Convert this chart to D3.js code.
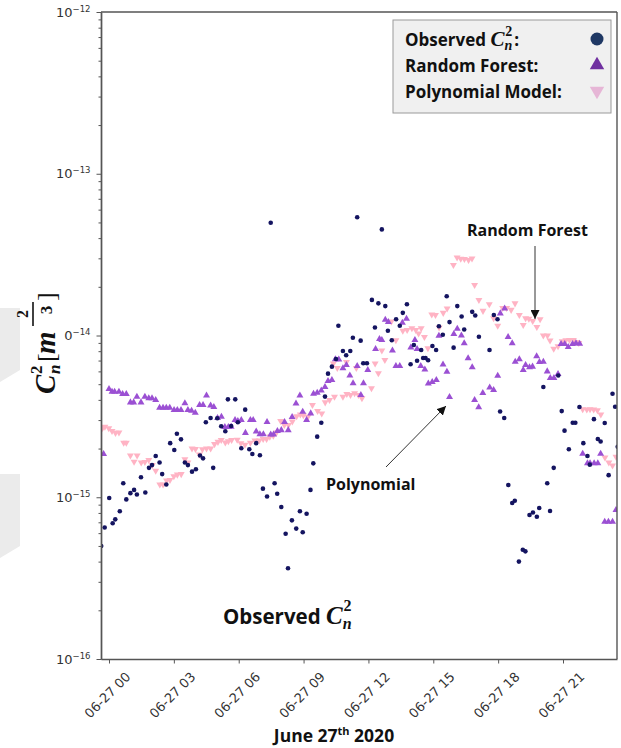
<!DOCTYPE html>
<html><head><meta charset="utf-8">
<script src="https://cdn.jsdelivr.net/npm/d3@7"></script>
<style>body{margin:0;background:#fff}svg{display:block}</style>
</head><body>
<svg id="c" width="621" height="748"></svg>
<script>
// ---- data (hours relative to 2020-06-27 00:00, C_n^2 values) ----
const xTickHours = [0,3,6,9,12,15,18,21];
const yTickExponents = [-16,-15,-14,-13,-12];
const legendLabels = ["Observed", "Random Forest:", "Polynomial Model:"];

const observed = [[-0.36,5.0e-16],[-0.20,6.5e-16],[0.01,9.9e-16],[0.17,6.9e-16],[0.29,7.3e-16],[0.50,8.2e-16],[0.66,1.22e-15],[0.80,9.7e-16],[0.99,1.06e-15],[1.16,1.11e-15],[1.29,1.04e-15],[1.48,1.33e-15],[1.68,1.07e-15],[1.85,1.52e-15],[1.99,1.58e-15],[2.16,1.80e-15],[2.34,1.64e-15],[2.46,1.39e-15],[2.65,1.20e-15],[2.83,2.16e-15],[3.02,1.96e-15],[3.14,2.47e-15],[3.33,2.28e-15],[3.51,1.64e-15],[3.65,1.58e-15],[3.84,1.44e-15],[4.02,1.49e-15],[4.21,1.81e-15],[4.35,1.74e-15],[4.48,2.91e-15],[4.70,3.09e-15],[4.82,1.52e-15],[5.01,3.08e-15],[5.19,2.75e-15],[5.38,2.56e-15],[5.50,4.03e-15],[5.65,2.76e-15],[5.84,4.03e-15],[5.96,2.91e-15],[6.12,2.01e-15],[6.30,3.48e-15],[6.49,1.98e-15],[6.63,1.85e-15],[6.81,2.16e-15],[6.98,1.82e-15],[7.12,1.13e-15],[7.31,1.01e-15],[7.48,4.98e-14],[7.66,1.22e-15],[7.78,1.05e-15],[7.97,8.7e-16],[8.17,5.95e-16],[8.28,3.64e-16],[8.46,7.2e-16],[8.66,6.4e-16],[8.83,8.2e-16],[8.96,6.07e-16],[9.14,7.9e-16],[9.32,1.11e-15],[9.45,1.62e-15],[9.63,2.37e-15],[9.82,2.89e-15],[9.99,4.19e-15],[10.13,5.81e-15],[10.31,6.42e-15],[10.50,7.16e-15],[10.61,1.15e-14],[10.82,8.02e-15],[10.97,7.55e-15],[11.16,8.02e-15],[11.28,9.69e-15],[11.48,5.38e-14],[11.64,9.29e-15],[11.76,6.74e-15],[11.93,6.74e-15],[12.16,1.66e-14],[12.30,1.12e-14],[12.46,1.58e-14],[12.62,4.53e-14],[12.78,1.52e-14],[12.90,1.07e-14],[13.08,9.34e-15],[13.28,1.26e-14],[13.45,1.15e-14],[13.59,1.38e-14],[13.78,1.56e-14],[13.95,6.64e-15],[14.10,8.73e-15],[14.25,6.98e-15],[14.44,8.13e-15],[14.53,7.26e-15],[14.64,7.26e-15],[14.76,7.03e-15],[14.96,8.61e-15],[15.13,8.13e-15],[15.26,1.14e-14],[15.44,1.01e-14],[15.62,1.75e-14],[15.75,1.21e-14],[15.94,8.41e-15],[16.11,1.52e-14],[16.31,1.31e-14],[16.43,1.09e-14],[16.80,1.40e-14],[16.94,1.33e-14],[17.11,9.83e-15],[17.60,8.13e-15],[17.80,1.34e-14],[17.97,1.26e-14],[18.09,3.39e-15],[18.28,3.09e-15],[18.47,1.19e-15],[18.65,9.21e-16],[18.77,9.52e-16],[18.96,4.0e-16],[19.14,4.74e-16],[19.26,4.63e-16],[19.45,7.77e-16],[19.61,8.05e-16],[19.79,7.58e-16],[19.90,8.58e-16],[20.09,4.8e-15],[20.27,1.22e-15],[20.40,8.22e-16],[20.57,1.52e-15],[20.78,5.66e-15],[20.94,3.41e-15],[21.07,2.58e-15],[21.27,1.98e-15],[21.45,2.89e-15],[21.57,2.89e-15],[21.76,3.61e-15],[21.94,2.16e-15],[22.13,1.80e-15],[22.24,1.59e-15],[22.43,3.04e-15],[22.61,2.29e-15],[22.74,2.21e-15],[22.93,2.88e-15],[23.11,1.37e-15],[23.29,4.36e-15],[23.41,3.63e-15],[23.53,2.05e-15]];

const randomForest = [[-0.25,1.85e-15],[0.00,4.67e-15],[0.14,4.49e-15],[0.26,4.49e-15],[0.46,4.49e-15],[0.63,4.35e-15],[0.80,4.35e-15],[0.99,3.86e-15],[1.14,3.86e-15],[1.29,4.18e-15],[1.48,3.86e-15],[1.66,4.18e-15],[1.84,4.09e-15],[1.99,4.09e-15],[2.16,3.99e-15],[2.34,3.58e-15],[2.50,3.58e-15],[2.65,3.58e-15],[2.81,3.58e-15],[3.01,3.46e-15],[3.16,3.46e-15],[3.33,3.46e-15],[3.51,3.81e-15],[3.65,3.46e-15],[3.82,3.43e-15],[3.99,3.33e-15],[4.19,3.72e-15],[4.35,3.72e-15],[4.51,4.26e-15],[4.70,3.69e-15],[4.85,3.61e-15],[5.02,3.09e-15],[5.20,3.15e-15],[5.36,2.72e-15],[5.52,2.72e-15],[5.65,2.73e-15],[5.83,3.0e-15],[5.96,2.96e-15],[6.12,3.0e-15],[6.31,2.50e-15],[6.54,3.0e-15],[6.67,3.0e-15],[6.81,2.55e-15],[6.98,2.45e-15],[7.14,2.45e-15],[7.31,2.92e-15],[7.48,2.44e-15],[7.61,2.44e-15],[7.79,2.57e-15],[7.97,2.60e-15],[8.12,2.92e-15],[8.29,2.60e-15],[8.47,3.13e-15],[8.65,3.80e-15],[8.83,4.26e-15],[8.96,3.38e-15],[9.14,3.0e-15],[9.33,3.30e-15],[9.46,4.37e-15],[9.63,4.43e-15],[9.82,4.57e-15],[9.99,4.80e-15],[10.13,5.23e-15],[10.31,5.31e-15],[10.47,7.13e-15],[10.63,7.1e-15],[10.82,6.27e-15],[10.98,6.57e-15],[11.14,5.66e-15],[11.29,5.06e-15],[11.48,6.48e-15],[11.65,4.29e-15],[11.77,5.06e-15],[11.97,6.12e-15],[12.33,8.25e-15],[12.51,9.51e-15],[12.62,9.38e-15],[12.78,1.25e-14],[12.92,1.21e-14],[13.11,8.08e-15],[13.27,6.48e-15],[13.45,6.48e-15],[13.57,1.20e-14],[13.76,1.27e-14],[13.96,8.43e-15],[14.15,9.38e-15],[14.25,8.25e-15],[14.42,6.48e-15],[14.61,6.17e-15],[14.77,5.05e-15],[14.95,5.16e-15],[15.14,5.31e-15],[15.26,9.97e-15],[15.45,6.62e-15],[15.63,5.97e-15],[15.75,4.17e-15],[15.95,1.02e-14],[16.11,1.10e-14],[16.30,1.0e-14],[16.43,8.95e-15],[16.61,7.24e-15],[16.80,6.36e-15],[16.91,3.99e-15],[17.10,3.60e-15],[17.29,4.41e-15],[17.61,4.77e-15],[17.79,4.60e-15],[17.98,5.64e-15],[18.10,1.37e-14],[18.30,1.47e-14],[18.46,9.79e-15],[18.65,8.95e-15],[18.79,6.89e-15],[18.98,7.13e-15],[19.16,6.12e-15],[19.27,6.57e-15],[19.45,6.37e-15],[19.59,6.42e-15],[19.78,7.44e-15],[19.91,6.86e-15],[20.09,6.89e-15],[20.27,6.0e-15],[20.41,5.46e-15],[20.58,5.46e-15],[20.77,5.78e-15],[20.91,8.86e-15],[21.08,8.86e-15],[21.24,8.49e-15],[21.44,8.86e-15],[21.60,8.95e-15],[21.77,8.9e-15],[21.91,1.86e-15],[22.13,1.62e-15],[22.25,1.62e-15],[22.44,1.62e-15],[22.61,1.62e-15],[22.74,1.86e-15],[22.93,7.06e-16],[23.10,7.06e-16],[23.29,7.06e-16],[23.45,8.34e-16]];

const polynomial = [[-0.30,2.68e-15],[-0.19,2.73e-15],[-0.01,2.67e-15],[0.14,2.57e-15],[0.30,2.50e-15],[0.46,2.51e-15],[0.68,2.17e-15],[0.80,2.17e-15],[0.99,1.81e-15],[1.16,1.66e-15],[1.30,1.81e-15],[1.49,1.64e-15],[1.66,1.65e-15],[1.84,1.70e-15],[2.00,1.58e-15],[2.16,1.46e-15],[2.35,1.20e-15],[2.50,1.20e-15],[2.66,1.27e-15],[2.82,1.28e-15],[3.00,1.35e-15],[3.16,1.38e-15],[3.34,1.39e-15],[3.51,1.72e-15],[3.65,1.64e-15],[3.84,2.0e-15],[4.00,1.99e-15],[4.18,1.84e-15],[4.32,1.98e-15],[4.51,2.0e-15],[4.70,2.0e-15],[4.88,2.13e-15],[5.04,2.20e-15],[5.19,2.26e-15],[5.38,2.18e-15],[5.52,2.22e-15],[5.67,2.26e-15],[5.93,2.27e-15],[6.10,2.16e-15],[6.29,2.11e-15],[6.54,2.17e-15],[6.75,2.24e-15],[6.95,2.24e-15],[7.13,2.29e-15],[7.29,2.29e-15],[7.44,2.37e-15],[7.60,2.40e-15],[7.75,2.51e-15],[7.94,2.96e-15],[8.11,2.80e-15],[8.30,2.80e-15],[8.48,2.94e-15],[8.68,3.17e-15],[8.85,3.25e-15],[8.99,3.21e-15],[9.20,3.15e-15],[9.41,3.72e-15],[9.65,3.41e-15],[9.84,3.29e-15],[10.00,3.86e-15],[10.20,3.99e-15],[10.38,6.71e-15],[10.43,4.18e-15],[10.56,6.30e-15],[10.82,4.18e-15],[10.98,6.86e-15],[11.00,4.35e-15],[11.17,4.29e-15],[11.36,4.39e-15],[11.44,6.30e-15],[11.54,4.29e-15],[11.70,4.09e-15],[12.14,4.72e-15],[12.31,6.72e-15],[12.46,5.84e-15],[12.62,8.08e-15],[12.76,7.06e-15],[13.06,1.22e-14],[13.27,9.34e-15],[13.59,1.07e-14],[13.79,1.08e-14],[14.01,1.11e-14],[14.19,1.08e-14],[14.32,1.03e-14],[14.44,1.11e-14],[14.59,9.79e-15],[14.75,8.33e-15],[14.93,1.35e-14],[15.10,1.34e-14],[15.27,1.12e-14],[15.46,1.38e-14],[15.64,1.47e-14],[15.93,2.73e-14],[16.10,3.04e-14],[16.27,2.98e-14],[16.44,2.97e-14],[16.63,2.93e-14],[16.79,2.99e-14],[16.91,2.05e-14],[17.11,1.66e-14],[17.30,1.42e-14],[17.59,1.56e-14],[17.79,1.28e-14],[17.98,1.15e-14],[18.21,1.48e-14],[18.39,1.48e-14],[18.60,1.44e-14],[18.78,1.58e-14],[18.98,1.34e-14],[19.16,1.16e-14],[19.27,1.28e-14],[19.42,1.27e-14],[19.60,1.23e-14],[19.79,1.13e-14],[19.94,1.26e-14],[20.09,1.0e-14],[20.28,1.0e-14],[20.40,9.31e-15],[20.57,8.28e-15],[20.77,8.59e-15],[20.96,9.21e-15],[21.13,9.34e-15],[21.30,9.38e-15],[21.48,9.38e-15],[21.60,9.13e-15],[21.73,8.99e-15],[21.91,3.50e-15],[22.10,3.49e-15],[22.25,3.50e-15],[22.42,3.49e-15],[22.59,3.45e-15],[22.75,3.25e-15],[22.94,1.76e-15],[23.12,1.64e-15],[23.29,1.57e-15],[23.45,1.78e-15]];

// ---- layout ----
const svg = d3.select("#c");
const P = {left:101, top:12, right:617, bottom:659};
const t0 = Date.UTC(2020,5,27);
const toDate = h => new Date(t0 + h*3600e3);
const x = d3.scaleUtc().domain([toDate(-0.37), toDate(23.497)]).range([P.left, P.right]);
const y = d3.scaleLog().domain([1e-16, 1e-12]).range([P.bottom, P.top]);

const C_OBS = "#141460", C_RF = "#9b50d3", C_POLY = "#ffb3c4";
const SANS_B = "'Open Sans', Lato, sans-serif";
const MATH = "'Liberation Serif', 'DejaVu Serif', serif";

// background faint shapes at left edge
svg.append("path").attr("d","M0,308 L20,308 L20,370 L0,382 Z").attr("fill","#ebebeb");
svg.append("path").attr("d","M0,474 L20,474 L20,546 L0,558 Z").attr("fill","#ebebeb");

// clip
svg.append("clipPath").attr("id","clip").append("rect")
  .attr("x",P.left).attr("y",P.top).attr("width",P.right-P.left).attr("height",P.bottom-P.top);
const plot = svg.append("g").attr("clip-path","url(#clip)");

// series
plot.append("g").selectAll("path").data(polynomial).join("path")
  .attr("d", d3.symbol(d3.symbolTriangle, 21))
  .attr("transform", d => `translate(${x(toDate(d[0]))},${y(d[1])}) rotate(180)`)
  .attr("fill", C_POLY);
plot.append("g").selectAll("path").data(randomForest).join("path")
  .attr("d", d3.symbol(d3.symbolTriangle, 21))
  .attr("transform", d => `translate(${x(toDate(d[0]))},${y(d[1])})`)
  .attr("fill", C_RF);
plot.append("g").selectAll("circle").data(observed).join("circle")
  .attr("cx", d => x(toDate(d[0]))).attr("cy", d => y(d[1])).attr("r", 2.3)
  .attr("fill", C_OBS);

// axes
const axisColor = "#555";
const majors = yTickExponents.map(e => Math.pow(10, e));
const minors = [];
yTickExponents.slice(0,-1).forEach(e => { for (let k=2;k<=9;k++) minors.push(k*Math.pow(10,e)); });

const gyMinor = svg.append("g").attr("transform",`translate(${P.left},0)`)
  .call(d3.axisLeft(y).tickValues(minors).tickSize(2.5).tickFormat(() => "").tickSizeOuter(0));
const gy = svg.append("g").attr("transform",`translate(${P.left},0)`)
  .call(d3.axisLeft(y).tickValues(majors).tickSize(4.5).tickPadding(6).tickFormat(() => "").tickSizeOuter(0));
gy.selectAll(".tick text").each(function(d) {
  const e = Math.round(Math.log10(d));
  const t = d3.select(this).attr("font-family","'DejaVu Sans', sans-serif").attr("font-size",13)
    .attr("fill","#333").attr("dy","0.32em");
  t.append("tspan").text(e === -14 ? "0" : "10");
  t.append("tspan").attr("font-size",8.5).attr("dy","-0.6em").text("\u2212" + (-e));
});
const gx = svg.append("g").attr("transform",`translate(0,${P.bottom})`)
  .call(d3.axisBottom(x).tickValues(xTickHours.map(toDate)).tickSize(4.5)
    .tickFormat(d3.utcFormat("%m-%d %H")).tickSizeOuter(0));
gx.selectAll(".tick text").attr("font-family","'DejaVu Sans', sans-serif").attr("font-size",13)
  .attr("fill","#333").attr("y",0).attr("dy","0.35em").attr("text-anchor","middle")
  .attr("transform","translate(-2,36) rotate(-45)");
[gyMinor, gy, gx].forEach(g => {
  g.select(".domain").attr("stroke",axisColor).attr("stroke-width",1.4);
  g.selectAll(".tick line").attr("stroke",axisColor).attr("stroke-width",1);
});
svg.append("line").attr("x1",P.left).attr("x2",P.right).attr("y1",P.top).attr("y2",P.top)
  .attr("stroke",axisColor).attr("stroke-width",1.4);
svg.append("line").attr("x1",P.right).attr("x2",P.right).attr("y1",P.top).attr("y2",P.bottom)
  .attr("stroke",axisColor).attr("stroke-width",1.4);

// x axis title
const xt = svg.append("text").attr("x",334).attr("y",742).attr("text-anchor","middle")
  .attr("font-family",SANS_B).attr("font-weight",700).attr("font-size",17.5).attr("fill","#111");
xt.append("tspan").text("June 27");
xt.append("tspan").attr("font-size",11).attr("dy","-0.6em").text("th");
xt.append("tspan").attr("dy","0.38em").text(" 2020");

// y axis title (rotated)
const yt = svg.append("g").attr("transform","translate(55,346) rotate(-90)")
  .attr("font-family",MATH).attr("font-weight",700).attr("fill","#111");
yt.append("text").attr("x",-48).attr("y",0).attr("font-size",29).attr("font-style","italic").text("C");
yt.append("text").attr("x",-28).attr("y",5).attr("font-size",17).attr("font-style","italic").text("n");
yt.append("text").attr("x",-28).attr("y",-13).attr("font-size",17).text("2");
yt.append("text").attr("x",-16).attr("y",0).attr("font-size",26).attr("font-weight",400).text("[");
yt.append("text").attr("x",-8).attr("y",0).attr("font-size",29).attr("font-style","italic").text("m");
yt.append("line").attr("x1",20).attr("x2",44).attr("y1",-22).attr("y2",-22).attr("stroke","#111").attr("stroke-width",1.6);
yt.append("text").attr("x",32).attr("y",-27).attr("text-anchor","middle").attr("font-size",16).text("2");
yt.append("text").attr("x",36).attr("y",-3).attr("text-anchor","middle").attr("font-size",17).text("3");
yt.append("text").attr("x",45).attr("y",0).attr("font-size",26).attr("font-weight",400).text("]");

// annotations
const defs = svg.append("defs");
defs.append("marker").attr("id","arr").attr("viewBox","0 0 10 10").attr("refX",10).attr("refY",5)
  .attr("markerWidth",9).attr("markerHeight",9).attr("markerUnits","userSpaceOnUse").attr("orient","auto")
  .append("path").attr("d","M0,0 L10,5 L0,10 Z").attr("fill","#111");
svg.append("text").attr("x",467).attr("y",236).attr("font-family",SANS_B).attr("font-weight",700)
  .attr("font-size",16).attr("fill","#111").text("Random Forest");
svg.append("line").attr("x1",535).attr("y1",246).attr("x2",535).attr("y2",319)
  .attr("stroke","#333").attr("stroke-width",1).attr("marker-end","url(#arr)");
svg.append("text").attr("x",326).attr("y",490).attr("font-family",SANS_B).attr("font-weight",700)
  .attr("font-size",16).attr("fill","#111").text("Polynomial");
svg.append("line").attr("x1",386).attr("y1",467).attr("x2",446).attr("y2",406)
  .attr("stroke","#333").attr("stroke-width",1).attr("marker-end","url(#arr)");
const ob = svg.append("text").attr("x",223).attr("y",624).attr("font-family",SANS_B).attr("font-weight",700)
  .attr("font-size",20.5).attr("fill","#111");
ob.append("tspan").text("Observed ");
ob.append("tspan").attr("font-family",MATH).attr("font-style","italic").attr("font-size",25).text("C");
ob.append("tspan").attr("font-family",MATH).attr("font-style","italic").attr("font-size",16).attr("dy",5).text("n");
ob.append("tspan").attr("font-family",MATH).attr("font-size",16).attr("dx",-8).attr("dy",-18).text("2");

// legend
const lg = svg.append("g");
lg.append("rect").attr("x",393).attr("y",20).attr("width",218).attr("height",93)
  .attr("fill","#f0f0f0").attr("stroke","#9a9a9a").attr("stroke-width",1);
const ly = [46, 72, 98];
const lt0 = lg.append("text").attr("x",405).attr("y",ly[0]).attr("font-family",SANS_B).attr("font-weight",700)
  .attr("font-size",17).attr("fill","#111");
lt0.append("tspan").text(legendLabels[0] + " ");
lt0.append("tspan").attr("font-family",MATH).attr("font-style","italic").attr("font-size",21).text("C");
lt0.append("tspan").attr("font-family",MATH).attr("font-style","italic").attr("font-size",14).attr("dy",4).text("n");
lt0.append("tspan").attr("font-family",MATH).attr("font-size",14).attr("dx",-7).attr("dy",-14).text("2");
lt0.append("tspan").attr("dy",10).attr("dx",2).text(":");
lg.append("text").attr("x",405).attr("y",ly[1]).attr("font-family",SANS_B).attr("font-weight",700)
  .attr("font-size",17).attr("fill","#111").text(legendLabels[1]);
lg.append("text").attr("x",405).attr("y",ly[2]).attr("font-family",SANS_B).attr("font-weight",700)
  .attr("font-size",17).attr("fill","#111").text(legendLabels[2]);
lg.append("circle").attr("cx",597).attr("cy",39).attr("r",6.5).attr("fill","#1f3864");
lg.append("path").attr("d",d3.symbol(d3.symbolTriangle,90)).attr("transform","translate(597,65)").attr("fill","#7030a0");
lg.append("path").attr("d",d3.symbol(d3.symbolTriangle,90)).attr("transform","translate(597,91) rotate(180)").attr("fill","#e6b6d6");
</script>
</body></html>
